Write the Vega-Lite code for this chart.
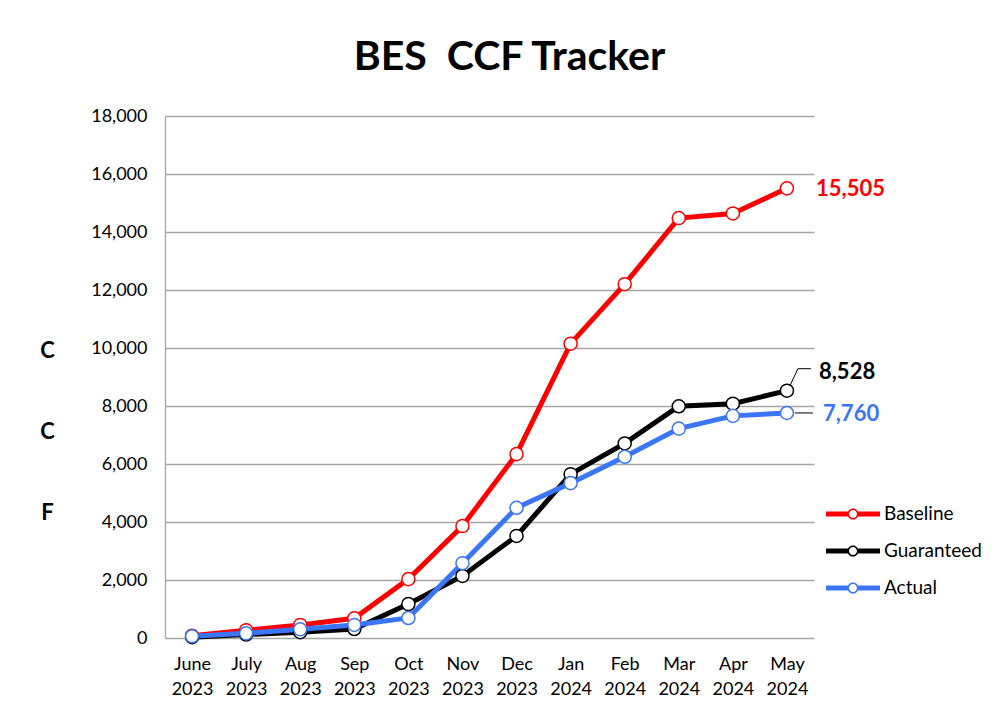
{
  "$schema": "https://vega.github.io/schema/vega-lite/v6.json",
  "width": 649,
  "height": 522,
  "autosize": {"type": "none"},
  "padding": {"left": 165, "top": 116, "right": 182, "bottom": 72},
  "background": "white",
  "config": {"font": "Lato", "view": {"stroke": null}},
  "title": {"text": "BES\u00a0 CCF Tracker", "font": "Lato", "fontSize": 41, "fontWeight": "bold", "color": "black", "anchor": "middle", "frame": "group", "dx": 20, "offset": 28},
  "data": {"values": [
    {"month": "June 2023", "series": "Baseline", "value": 80},
    {"month": "July 2023", "series": "Baseline", "value": 270},
    {"month": "Aug 2023", "series": "Baseline", "value": 450},
    {"month": "Sep 2023", "series": "Baseline", "value": 680},
    {"month": "Oct 2023", "series": "Baseline", "value": 2030},
    {"month": "Nov 2023", "series": "Baseline", "value": 3860},
    {"month": "Dec 2023", "series": "Baseline", "value": 6340},
    {"month": "Jan 2024", "series": "Baseline", "value": 10150},
    {"month": "Feb 2024", "series": "Baseline", "value": 12200},
    {"month": "Mar 2024", "series": "Baseline", "value": 14480},
    {"month": "Apr 2024", "series": "Baseline", "value": 14640},
    {"month": "May 2024", "series": "Baseline", "value": 15505},
    {"month": "June 2023", "series": "Guaranteed", "value": 30},
    {"month": "July 2023", "series": "Guaranteed", "value": 120},
    {"month": "Aug 2023", "series": "Guaranteed", "value": 200},
    {"month": "Sep 2023", "series": "Guaranteed", "value": 310},
    {"month": "Oct 2023", "series": "Guaranteed", "value": 1170},
    {"month": "Nov 2023", "series": "Guaranteed", "value": 2140},
    {"month": "Dec 2023", "series": "Guaranteed", "value": 3520},
    {"month": "Jan 2024", "series": "Guaranteed", "value": 5650},
    {"month": "Feb 2024", "series": "Guaranteed", "value": 6710},
    {"month": "Mar 2024", "series": "Guaranteed", "value": 7990},
    {"month": "Apr 2024", "series": "Guaranteed", "value": 8080},
    {"month": "May 2024", "series": "Guaranteed", "value": 8528},
    {"month": "June 2023", "series": "Actual", "value": 60},
    {"month": "July 2023", "series": "Actual", "value": 160},
    {"month": "Aug 2023", "series": "Actual", "value": 300},
    {"month": "Sep 2023", "series": "Actual", "value": 450},
    {"month": "Oct 2023", "series": "Actual", "value": 690},
    {"month": "Nov 2023", "series": "Actual", "value": 2580},
    {"month": "Dec 2023", "series": "Actual", "value": 4490},
    {"month": "Jan 2024", "series": "Actual", "value": 5340},
    {"month": "Feb 2024", "series": "Actual", "value": 6250},
    {"month": "Mar 2024", "series": "Actual", "value": 7220},
    {"month": "Apr 2024", "series": "Actual", "value": 7660},
    {"month": "May 2024", "series": "Actual", "value": 7760}
  ]},
  "encoding": {
    "x": {
      "field": "month", "type": "ordinal",
      "sort": ["June 2023", "July 2023", "Aug 2023", "Sep 2023", "Oct 2023", "Nov 2023", "Dec 2023", "Jan 2024", "Feb 2024", "Mar 2024", "Apr 2024", "May 2024"],
      "scale": {"type": "point", "padding": 0.5},
      "axis": {"title": null, "labelAngle": 0, "domain": false, "ticks": false, "labelExpr": "split(datum.label, ' ')", "labelFontSize": 18, "labelFont": "Lato", "labelColor": "black", "labelLineHeight": 25, "labelPadding": 17, "labelBaseline": "top"}
    },
    "y": {
      "field": "value", "type": "quantitative",
      "scale": {"domain": [0, 18000]},
      "axis": {
        "values": [0, 2000, 4000, 6000, 8000, 10000, 12000, 14000, 16000, 18000],
        "format": ",.0f", "ticks": false, "domain": true, "domainColor": "#A6A6A6", "domainWidth": 1.3,
        "grid": true, "gridColor": "#A6A6A6", "gridWidth": 1.3,
        "labelFontSize": 18, "labelFont": "Lato", "labelColor": "black", "labelPadding": 18,
        "title": ["C", "C", "F"], "titleAngle": 0, "titleX": -118, "titleY": 234, "titleAlign": "center", "titleBaseline": "middle",
        "titleFontSize": 22, "titleFont": "Lato", "titleFontWeight": "bold", "titleColor": "black", "titleLineHeight": 81
      }
    }
  },
  "layer": [
    {
      "mark": {"type": "line", "strokeWidth": 5},
      "encoding": {
        "color": {
          "field": "series", "type": "nominal",
          "scale": {"domain": ["Baseline", "Guaranteed", "Actual"], "range": ["#FF0000", "#000000", "#3B76F6"]},
          "legend": {
            "orient": "none", "legendX": 670, "legendY": 380, "title": null,
            "symbolType": "M-1.5,-0.14H-0.28V0.14H-1.5Z M0.28,-0.14H1.5V0.14H0.28Z M0.31,0A0.31,0.31 0 1,1 -0.31,0A0.31,0.31 0 1,1 0.31,0Z M0.22,0A0.22,0.22 0 1,0 -0.22,0A0.22,0.22 0 1,0 0.22,0Z",
            "symbolSize": 1296, "labelFontSize": 19, "labelFont": "Lato", "labelColor": "black", "labelOffset": 13, "rowPadding": 9,
            "encode": {"symbols": {"update": {"fill": {"scale": "color", "field": "value"}, "stroke": {"value": "transparent"}, "strokeWidth": {"value": 0}, "opacity": {"value": 1}}}}
          }
        }
      }
    },
    {
      "mark": {"type": "point", "shape": "circle", "filled": true, "fill": "white", "size": 170, "strokeWidth": 1.5, "opacity": 1},
      "encoding": {
        "stroke": {
          "field": "series", "type": "nominal",
          "scale": {"domain": ["Baseline", "Guaranteed", "Actual"], "range": ["#FF0000", "#000000", "#3B76F6"]},
          "legend": null
        }
      }
    },
    {
      "transform": [{"filter": "datum.series === 'Baseline' && datum.month === 'May 2024'"}],
      "mark": {"type": "text", "align": "left", "baseline": "middle", "dx": 29, "dy": 1, "fontSize": 22, "fontWeight": "bold", "font": "Lato", "color": "#FF0000"},
      "encoding": {"text": {"field": "value", "type": "quantitative", "format": ","}}
    },
    {
      "transform": [{"filter": "datum.series === 'Guaranteed' && datum.month === 'May 2024'"}],
      "mark": {"type": "text", "align": "left", "baseline": "middle", "dx": 32, "dy": -19, "fontSize": 22, "fontWeight": "bold", "font": "Lato", "color": "#000000"},
      "encoding": {"text": {"field": "value", "type": "quantitative", "format": ","}}
    },
    {
      "transform": [{"filter": "datum.series === 'Actual' && datum.month === 'May 2024'"}],
      "mark": {"type": "text", "align": "left", "baseline": "middle", "dx": 36, "dy": 1, "fontSize": 22, "fontWeight": "bold", "font": "Lato", "color": "#3B76F6"},
      "encoding": {"text": {"field": "value", "type": "quantitative", "format": ","}}
    },
    {
      "transform": [{"filter": "datum.series === 'Guaranteed' && datum.month === 'May 2024'"}],
      "mark": {"type": "rule", "color": "black", "strokeWidth": 1, "xOffset": 3, "yOffset": -5, "x2Offset": 11, "y2Offset": -22},
      "encoding": {"x2": {"field": "month"}, "y2": {"field": "value"}}
    },
    {
      "transform": [{"filter": "datum.series === 'Guaranteed' && datum.month === 'May 2024'"}],
      "mark": {"type": "rule", "color": "black", "strokeWidth": 1, "xOffset": 11, "yOffset": -22, "x2Offset": 24, "y2Offset": -22},
      "encoding": {"x2": {"field": "month"}, "y2": {"field": "value"}}
    },
    {
      "transform": [{"filter": "datum.series === 'Actual' && datum.month === 'May 2024'"}],
      "mark": {"type": "rule", "color": "black", "strokeWidth": 1, "xOffset": 8, "x2Offset": 26},
      "encoding": {"x2": {"field": "month"}, "y2": {"field": "value"}}
    }
  ]
}
